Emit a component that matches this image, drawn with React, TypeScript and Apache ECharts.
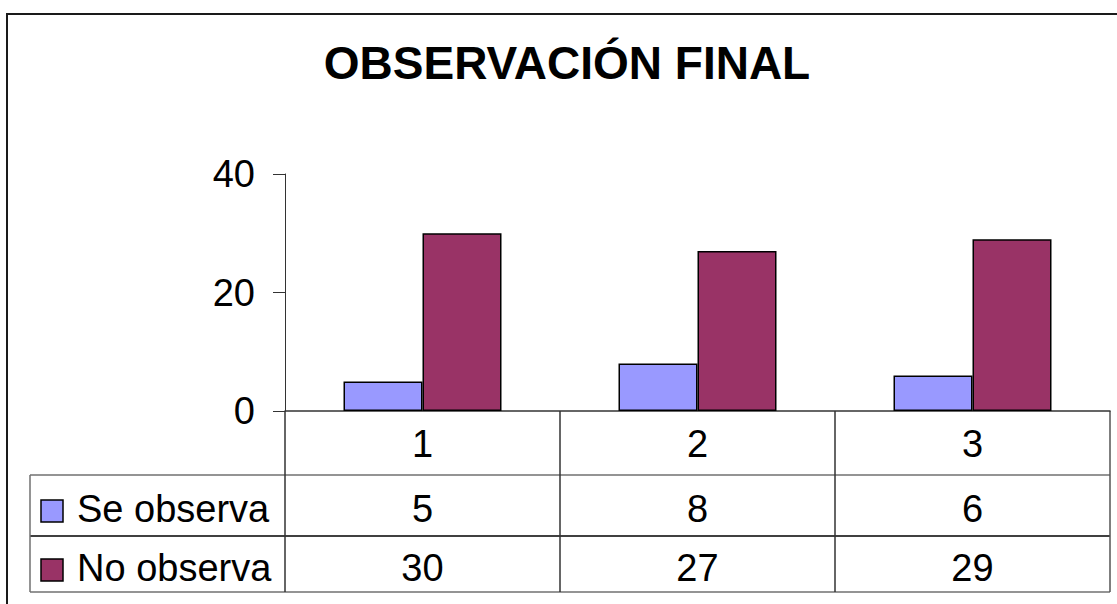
import React, { useEffect, useRef } from "react";
import * as echarts from "echarts";

const categories = ["1", "2", "3"];
const seObserva = [5, 8, 6];
const noObserva = [30, 27, 29];
const seriesNames = ["Se observa", "No observa"];
const seriesColors = ["#9999FF", "#993366"];
const titleText = "OBSERVACIÓN FINAL";
const yMin = 0;
const yMax = 40;
const yInterval = 20;

const FONT = "'Liberation Sans', Arial, sans-serif";

export default function App() {
  const ref = useRef<HTMLDivElement>(null);

  useEffect(() => {
    if (!ref.current) return;
    const chart = echarts.init(ref.current, null, { renderer: "svg" });
    const W = 1117;
    const H = 604;
    const gridLeft = 285;
    const gridRight = 1110;
    const gridTop = 174;
    const gridBottom = 411;
    const band = (gridRight - gridLeft) / categories.length;
    const rowTop = 475;
    const rowMid = 536;
    const rowBottom = 592;
    const tableLeft = 30;
    const rowCenters = [509, 568];
    const boxCenters = [511, 570];
    const seriesData = [seObserva, noObserva];

    const graphics: any[] = [];
    graphics.push({
      type: "rect",
      silent: true,
      z: -10,
      shape: { x: 7, y: 14, width: 1140, height: 640 },
      style: { fill: "transparent", stroke: "#1a1a1a", lineWidth: 2 },
    });
    graphics.push({
      type: "text",
      silent: true,
      x: 567,
      y: 62.5,
      style: {
        text: titleText,
        font: `bold 46px ${FONT}`,
        fill: "#000",
        align: "center",
        verticalAlign: "middle",
      },
    });
    const hLine = (y: number, color: string, x1 = tableLeft, x2 = gridRight) =>
      graphics.push({
        type: "line",
        silent: true,
        shape: { x1, y1: y, x2, y2: y },
        style: { stroke: color, lineWidth: 1.5 },
      });
    const vLine = (x: number, y1: number, y2: number, color: string) =>
      graphics.push({
        type: "line",
        silent: true,
        shape: { x1: x, y1, x2: x, y2 },
        style: { stroke: color, lineWidth: 1.5 },
      });
    hLine(rowTop, "#707070");
    hLine(rowMid, "#000");
    hLine(rowBottom, "#707070");
    vLine(tableLeft, rowTop, rowBottom, "#707070");
    for (let i = 0; i <= categories.length; i++) {
      vLine(gridLeft + i * band, gridBottom, rowBottom, i === categories.length ? "#555" : "#333");
    }
    seriesNames.forEach((name, si) => {
      graphics.push({
        type: "rect",
        silent: true,
        shape: { x: 41, y: boxCenters[si] - 11, width: 22, height: 22 },
        style: { fill: seriesColors[si], stroke: "#000", lineWidth: 1.5 },
      });
      graphics.push({
        type: "text",
        silent: true,
        x: 77,
        y: rowCenters[si],
        style: {
          text: name,
          font: `38px ${FONT}`,
          fill: "#000",
          align: "left",
          verticalAlign: "middle",
        },
      });
      seriesData[si].forEach((v, ci) => {
        graphics.push({
          type: "text",
          silent: true,
          x: gridLeft + (ci + 0.5) * band,
          y: rowCenters[si],
          style: {
            text: String(v),
            font: `38px ${FONT}`,
            fill: "#000",
            align: "center",
            verticalAlign: "middle",
          },
        });
      });
    });

    chart.setOption({
      animation: false,
      backgroundColor: "#fff",
      grid: {
        left: gridLeft,
        right: W - gridRight,
        top: gridTop,
        bottom: H - gridBottom,
        containLabel: false,
      },
      xAxis: {
        type: "category",
        data: categories,
        axisLine: { show: true, lineStyle: { color: "#333", width: 1.5 } },
        axisTick: { show: false },
        axisLabel: {
          show: true,
          fontSize: 38,
          fontFamily: FONT,
          color: "#000",
          margin: 33,
          verticalAlign: "middle",
        },
        splitLine: { show: false },
      },
      yAxis: {
        type: "value",
        min: yMin,
        max: yMax,
        interval: yInterval,
        axisLine: { show: true, lineStyle: { color: "#333", width: 1 } },
        axisTick: { show: true, length: 12, lineStyle: { color: "#333", width: 1 } },
        axisLabel: {
          fontSize: 38,
          fontFamily: FONT,
          color: "#000",
          margin: 30,
        },
        splitLine: { show: false },
      },
      series: seriesNames.map((name, si) => ({
        name,
        type: "bar",
        data: seriesData[si],
        barWidth: 79,
        barGap: "0%",
        itemStyle: { color: seriesColors[si], borderColor: "#000", borderWidth: 1.5 },
        z: 3,
      })),
      graphic: graphics,
    });

    return () => chart.dispose();
  }, []);

  return (
    <div
      ref={ref}
      style={{ position: "fixed", left: 0, top: 0, width: 1117, height: 604 }}
    />
  );
}
